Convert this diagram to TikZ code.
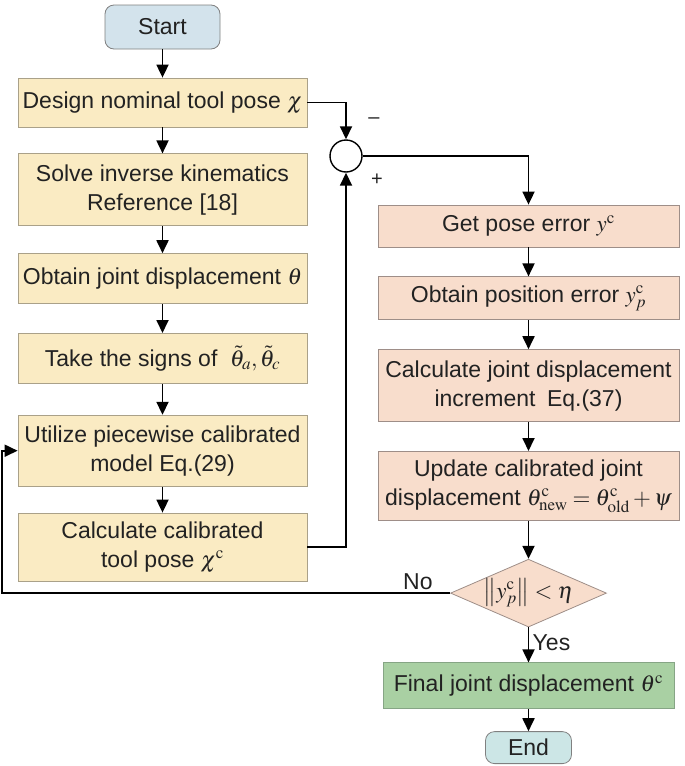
\documentclass[tikz,border=0pt]{standalone}
\usepackage{mathptmx}
\usepackage[no-math]{fontspec}
\setmainfont{Liberation Sans}
\usepackage{amsmath}
\usepackage{xcolor}
\usetikzlibrary{arrows.meta}
\usetikzlibrary{positioning}
\usetikzlibrary{shapes.geometric}

\definecolor{startblue}{HTML}{D3E3EC}
\definecolor{endteal}{HTML}{CCE6E6}
\definecolor{leftfill}{HTML}{FAEBC3}
\definecolor{leftedge}{HTML}{AAA189}
\definecolor{rightfill}{HTML}{F8DDCC}
\definecolor{rightedge}{HTML}{9E8E88}
\definecolor{finalfill}{HTML}{A9D0A3}
\definecolor{finaledge}{HTML}{86A585}
\definecolor{ink}{HTML}{222222}

\tikzset{
  term/.style={draw=gray, line width=0.8pt, rounded corners=9pt, inner sep=0pt},
  leftbox/.style={draw=leftedge, fill=leftfill, line width=0.8pt, minimum width=289pt, align=center, inner sep=2pt},
  rightbox/.style={draw=rightedge, fill=rightfill, line width=0.8pt, minimum width=301pt, align=center, inner sep=2pt},
  decision/.style={diamond, draw=rightedge, fill=rightfill, line width=0.8pt, aspect=2.3, inner sep=0pt},
  flow/.style={->, line width=1.8pt},
}

\begin{document}
\begin{tikzpicture}[x=1pt, y=-1pt, text=ink,
  font=\fontsize{23}{29}\selectfont,
  >={Triangle[length=13pt,width=12pt]}]
\useasboundingbox (0,0) rectangle (685,766);

% left column
\node[term, fill=startblue, minimum width=115pt, minimum height=44pt] at (162.5,27) (start) {Start};
\node[leftbox, minimum height=49pt] at (162.5,102.5) (design) {Design nominal tool pose $\chi$};
\node[leftbox, minimum height=72pt, below=26pt of design] (solve) {Solve inverse kinematics\\Reference [18]};
\node[leftbox, minimum height=50pt, below=27pt of solve] (joint) {Obtain joint displacement $\theta$};
\node[leftbox, minimum height=50pt, below=29pt of joint] (signs) {Take the signs of \ $\tilde{\theta}_a, \tilde{\theta}_c$};
\node[leftbox, minimum height=71pt, below=31pt of signs] (util) {Utilize piecewise calibrated\\model Eq.(29)};
\node[leftbox, minimum height=68pt, below=26pt of util] (calib) {Calculate calibrated\\tool pose $\chi^{\mathrm{c}}$};

% summing junction
\node[draw, circle, minimum size=32pt, inner sep=0pt, line width=1.4pt] at (346,156) (sum) {};
\node[font=\fontsize{20}{20}\selectfont] at (374,121) {--};
\node[font=\fontsize{20}{20}\selectfont] at (377,180) {+};

% right column
\node[rightbox, minimum height=42pt] at (528.5,226) (pose) {Get pose error $y^{\mathrm{c}}$};
\node[rightbox, minimum height=43pt, below=29pt of pose] (poserr) {Obtain position error $y_p^{\mathrm{c}}$};
\node[rightbox, minimum height=72pt, below=29pt of poserr] (incr) {Calculate joint displacement\\increment\enspace Eq.(37)};
\node[rightbox, minimum height=69pt, below=29pt of incr] (update) {Update calibrated joint\\displacement $\theta^{\mathrm{c}}_{\mathrm{new}} = \theta^{\mathrm{c}}_{\mathrm{old}} + \psi$};
\node[decision, below=38pt of update] (check) {$\left\| y_p^{\mathrm{c}} \right\| < \eta$};
\node[draw=finaledge, fill=finalfill, line width=0.8pt, minimum width=291pt, minimum height=46pt, below=35pt of check] (final) {Final joint displacement $\theta^{\mathrm{c}}$};
\node[term, fill=endteal, minimum width=86pt, minimum height=32pt, below=22pt of final] (end) {End};
\coordinate (loop) at (2,594);

% connectors
\draw[flow] (start) -- (design);
\draw[flow] (design) -- (solve);
\draw[flow] (solve) -- (joint);
\draw[flow] (joint) -- (signs);
\draw[flow] (signs) -- (util);
\draw[flow] (util) -- (calib);
\draw[flow] (design.east) -| (sum.north);
\draw[flow] (calib.east) -| (sum.south);
\draw[flow] (sum.east) -| (pose.north);
\draw[flow] (pose) -- (poserr);
\draw[flow] (poserr) -- (incr);
\draw[flow] (incr) -- (update);
\draw[flow] (update) -- (check);
\draw[flow] (check) -- node[right, pos=0.45] {Yes} (final);
\draw[flow] (final) -- (end);
\draw[flow] (check.west) -- (check.west -| loop) |- (util.west);
\node[above left=0pt and 14pt of check.west] {No};
\end{tikzpicture}
\end{document}
